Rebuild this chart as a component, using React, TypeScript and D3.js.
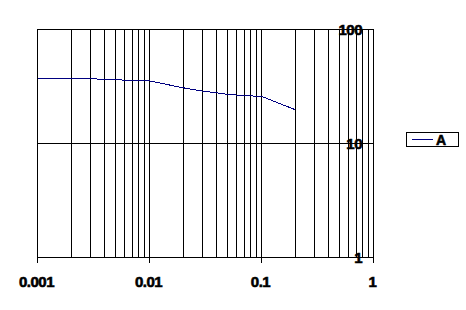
import React from "react";
import * as d3 from "d3";

const xValues = [0.001, 0.002, 0.003, 0.005, 0.007, 0.01, 0.02, 0.03, 0.05, 0.07, 0.1, 0.2];
const seriesA = [37, 37, 37, 36.2, 35.8, 35.4, 30.8, 28.8, 27, 26.3, 25.9, 19.8];
const xTickLabels = ["0.001", "0.01", "0.1", "1"];
const xTickValues = [0.001, 0.01, 0.1, 1];
const yTickLabels = ["1", "10", "100"];
const yTickValues = [1, 10, 100];
const seriesName = "A";

export default function App() {
  const W = 466, H = 310;
  const left = 37.5, right = 373.5, top = 29.5, bottom = 257.5;
  const x = d3.scaleLog().domain([0.001, 1]).range([left, right]);
  const y = d3.scaleLog().domain([1, 100]).range([bottom, top]);

  const minorX: number[] = [];
  for (let e = -3; e < 0; e++) {
    for (let m = 1; m <= 9; m++) minorX.push(m * Math.pow(10, e));
  }
  minorX.push(1);

  const line = d3
    .line<number>()
    .x((_, i) => x(xValues[i]))
    .y((d) => y(d));

  const font = "'Liberation Sans', Arial, sans-serif";
  const textStyle = { stroke: "#000", strokeWidth: 0.6, letterSpacing: "-0.5px" } as React.CSSProperties;

  return (
    <svg
      width={W}
      height={H}
      style={{ position: "absolute", left: 0, top: 0, background: "#fff" }}
      shapeRendering="crispEdges"
    >
      <rect x={0} y={0} width={W} height={H} fill="#fff" />
      {minorX.map((v, i) => (
        <line key={"gx" + i} x1={Math.round(x(v) - 0.5) + 0.5} x2={Math.round(x(v) - 0.5) + 0.5} y1={top} y2={bottom} stroke="#000" strokeWidth={1} />
      ))}
      {yTickValues.map((v, i) => (
        <line key={"gy" + i} x1={left} x2={right} y1={y(v)} y2={y(v)} stroke="#000" strokeWidth={1} />
      ))}
      <rect x={left} y={top} width={right - left} height={bottom - top} fill="none" stroke="#000" strokeWidth={1} />
      {xTickValues.map((v, i) => (
        <line key={"tx" + i} x1={x(v)} x2={x(v)} y1={bottom} y2={bottom + 5} stroke="#000" strokeWidth={1} />
      ))}
      <path d={line(seriesA) || ""} fill="none" stroke="#000080" strokeWidth={1} />
      {xTickValues.map((v, i) => (
        <text key={"lx" + i} x={x(v) - 1} y={286.5} textAnchor="middle" fontFamily={font} fontWeight="bold" fontSize={15} fill="#000" style={textStyle}>
          {xTickLabels[i]}
        </text>
      ))}
      {yTickValues.map((v, i) => (
        <text key={"ly" + i} x={362} y={y(v) + 5.5} textAnchor="end" fontFamily={font} fontWeight="bold" fontSize={15} fill="#000" style={textStyle}>
          {yTickLabels[i]}
        </text>
      ))}
      <rect x={406.5} y={132.5} width={52} height={14} fill="#fff" stroke="#000" strokeWidth={1} />
      <line x1={412} x2={433} y1={139.5} y2={139.5} stroke="#000080" strokeWidth={1} />
      <text x={436} y={145} fontFamily={font} fontWeight="bold" fontSize={14} fill="#000" style={textStyle}>
        {seriesName}
      </text>
    </svg>
  );
}
